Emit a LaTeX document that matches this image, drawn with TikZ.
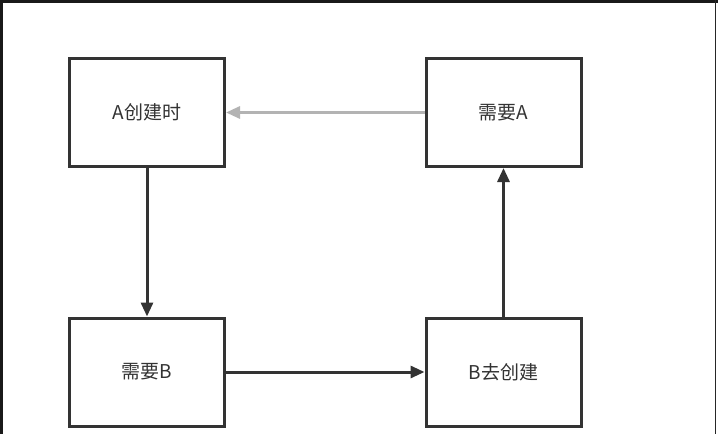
\documentclass[tikz,border=0pt]{standalone}
\usepackage{fontspec}
\setmainfont{Noto Sans CJK SC}
\usetikzlibrary{arrows.meta}
\definecolor{ink}{HTML}{333333}
\definecolor{lightarrow}{HTML}{B3B3B3}
\begin{document}
\begin{tikzpicture}[x=1pt,y=-1pt,
  box/.style={draw=ink,line width=3pt,fill=white,minimum width=155pt,minimum height=108pt,inner sep=0pt,font=\fontsize{19}{22}\selectfont,text=ink},
  conn/.style={draw=ink,line width=3pt,-{Triangle[length=14pt,width=12pt]}},
  conngrey/.style={draw=lightarrow,line width=3pt,-{Triangle[length=14pt,width=12pt]}}]
\useasboundingbox (0,0) rectangle (718,434);
\fill[white] (0,0) rectangle (718,434);
\fill[black!90] (0,0) rectangle (718,3);
\fill[black!90] (0,0) rectangle (2.5,434);
\fill[black!85] (714.5,0) rectangle (716,434);
\node[box] (a) at (147,112.5) {A创建时};
\node[box] (na) at (503.5,112.5) {需要A};
\node[box] (nb) at (147,372) {需要B};
\node[box] (b) at (503.5,372) {B去创建};
\draw[conn] (a) -- (nb);
\draw[conn] (nb) -- (b);
\draw[conn] (b) -- (na);
\draw[conngrey] (na) -- (a);
\end{tikzpicture}
\end{document}
